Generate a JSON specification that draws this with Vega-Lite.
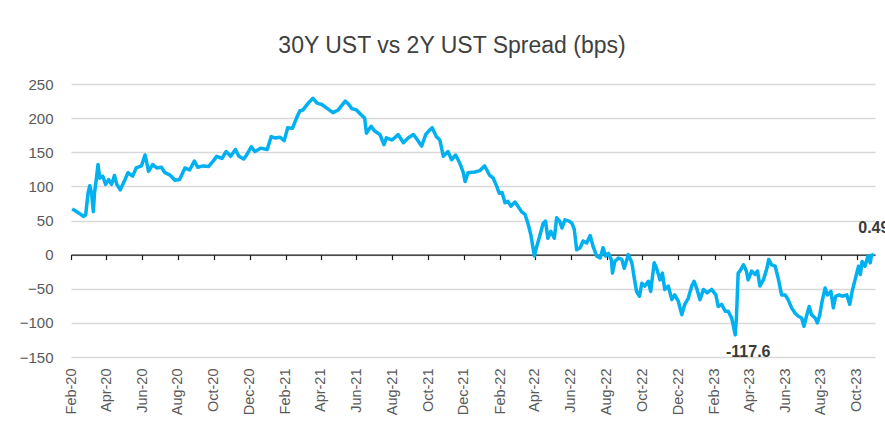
{
  "$schema": "https://vega.github.io/schema/vega-lite/v6.json",
  "width": 804,
  "height": 273,
  "autosize": {"type": "none"},
  "padding": {"left": 71, "top": 84, "right": 10, "bottom": 71},
  "background": "white",
  "config": {"view": {"stroke": null}, "font": "Liberation Sans"},
  "title": {"text": "30Y UST vs 2Y UST Spread (bps)", "fontSize": 23, "fontWeight": "normal", "color": "#404040", "font": "Liberation Sans", "anchor": "middle", "frame": "group", "dx": -21, "offset": 1, "baseline": "alphabetic"},
  "datasets": {
    "spread": [
      {"date":"2020-02-03","value":67},{"date":"2020-02-07","value":65},{"date":"2020-02-16","value":60},{"date":"2020-02-22","value":56},{"date":"2020-02-26","value":58},
      {"date":"2020-03-01","value":90},{"date":"2020-03-04","value":101},{"date":"2020-03-07","value":90},{"date":"2020-03-10","value":63},{"date":"2020-03-12","value":90},
      {"date":"2020-03-15","value":110},{"date":"2020-03-18","value":132},{"date":"2020-03-21","value":112},{"date":"2020-03-26","value":115},{"date":"2020-03-31","value":103},
      {"date":"2020-04-05","value":110},{"date":"2020-04-10","value":103},{"date":"2020-04-15","value":116},{"date":"2020-04-19","value":103},{"date":"2020-04-25","value":95},
      {"date":"2020-05-03","value":110},{"date":"2020-05-08","value":120},{"date":"2020-05-16","value":115},{"date":"2020-05-22","value":127},{"date":"2020-05-31","value":130},
      {"date":"2020-06-06","value":146},{"date":"2020-06-08","value":139},{"date":"2020-06-12","value":122},{"date":"2020-06-19","value":132},{"date":"2020-06-26","value":127},
      {"date":"2020-07-04","value":128},{"date":"2020-07-10","value":120},{"date":"2020-07-18","value":117},{"date":"2020-07-27","value":109},{"date":"2020-08-04","value":110},
      {"date":"2020-08-13","value":127},{"date":"2020-08-21","value":124},{"date":"2020-08-29","value":137},{"date":"2020-09-04","value":128},{"date":"2020-09-13","value":130},
      {"date":"2020-09-22","value":129},{"date":"2020-09-30","value":137},{"date":"2020-10-06","value":144},{"date":"2020-10-15","value":141},{"date":"2020-10-22","value":151},
      {"date":"2020-10-30","value":144},{"date":"2020-11-07","value":154},{"date":"2020-11-13","value":144},{"date":"2020-11-21","value":140},{"date":"2020-11-26","value":146},
      {"date":"2020-12-04","value":158},{"date":"2020-12-10","value":151},{"date":"2020-12-20","value":156},{"date":"2020-12-31","value":154},{"date":"2021-01-07","value":173},
      {"date":"2021-01-13","value":171},{"date":"2021-01-22","value":172},{"date":"2021-01-29","value":167},{"date":"2021-02-04","value":186},{"date":"2021-02-12","value":185},
      {"date":"2021-02-20","value":202},{"date":"2021-02-25","value":211},{"date":"2021-03-02","value":212},{"date":"2021-03-11","value":222},{"date":"2021-03-19","value":229},
      {"date":"2021-03-26","value":222},{"date":"2021-04-03","value":220},{"date":"2021-04-11","value":215},{"date":"2021-04-22","value":208},{"date":"2021-05-01","value":212},
      {"date":"2021-05-13","value":225},{"date":"2021-05-18","value":221},{"date":"2021-05-24","value":214},{"date":"2021-06-01","value":212},{"date":"2021-06-09","value":205},
      {"date":"2021-06-15","value":200},{"date":"2021-06-18","value":178},{"date":"2021-06-26","value":188},{"date":"2021-07-02","value":181},{"date":"2021-07-11","value":176},
      {"date":"2021-07-18","value":161},{"date":"2021-07-22","value":171},{"date":"2021-07-31","value":168},{"date":"2021-08-05","value":171},{"date":"2021-08-11","value":176},
      {"date":"2021-08-20","value":164},{"date":"2021-08-28","value":171},{"date":"2021-09-06","value":176},{"date":"2021-09-13","value":168},{"date":"2021-09-20","value":159},
      {"date":"2021-09-27","value":176},{"date":"2021-10-02","value":181},{"date":"2021-10-08","value":186},{"date":"2021-10-15","value":173},{"date":"2021-10-21","value":168},
      {"date":"2021-10-27","value":144},{"date":"2021-11-04","value":151},{"date":"2021-11-10","value":139},{"date":"2021-11-17","value":146},{"date":"2021-11-24","value":134},
      {"date":"2021-11-30","value":120},{"date":"2021-12-03","value":107},{"date":"2021-12-08","value":120},{"date":"2021-12-20","value":121},{"date":"2021-12-28","value":123},
      {"date":"2022-01-05","value":130},{"date":"2022-01-09","value":124},{"date":"2022-01-14","value":116},{"date":"2022-01-20","value":112},{"date":"2022-01-26","value":100},
      {"date":"2022-01-30","value":90},{"date":"2022-02-04","value":91},{"date":"2022-02-09","value":76},{"date":"2022-02-14","value":78},{"date":"2022-02-19","value":71},
      {"date":"2022-02-26","value":77},{"date":"2022-03-03","value":71},{"date":"2022-03-09","value":63},{"date":"2022-03-15","value":59},{"date":"2022-03-20","value":46},
      {"date":"2022-03-25","value":29},{"date":"2022-03-31","value":-2},{"date":"2022-04-04","value":12},{"date":"2022-04-09","value":27},{"date":"2022-04-15","value":46},
      {"date":"2022-04-19","value":49},{"date":"2022-04-23","value":24},{"date":"2022-04-28","value":34},{"date":"2022-05-04","value":24},{"date":"2022-05-08","value":54},
      {"date":"2022-05-13","value":49},{"date":"2022-05-17","value":39},{"date":"2022-05-22","value":51},{"date":"2022-05-29","value":49},{"date":"2022-06-03","value":46},
      {"date":"2022-06-07","value":37},{"date":"2022-06-11","value":7},{"date":"2022-06-17","value":10},{"date":"2022-06-22","value":20},{"date":"2022-06-28","value":17},
      {"date":"2022-07-04","value":28},{"date":"2022-07-09","value":12},{"date":"2022-07-15","value":-2},{"date":"2022-07-21","value":-5},{"date":"2022-07-26","value":10},
      {"date":"2022-07-30","value":-2},{"date":"2022-08-04","value":2},{"date":"2022-08-09","value":-7},{"date":"2022-08-11","value":-27},{"date":"2022-08-15","value":-10},
      {"date":"2022-08-21","value":-5},{"date":"2022-08-27","value":-7},{"date":"2022-08-31","value":-20},{"date":"2022-09-07","value":0},{"date":"2022-09-13","value":-12},
      {"date":"2022-09-17","value":-34},{"date":"2022-09-21","value":-54},{"date":"2022-09-26","value":-61},{"date":"2022-09-30","value":-42},{"date":"2022-10-05","value":-46},
      {"date":"2022-10-11","value":-39},{"date":"2022-10-15","value":-54},{"date":"2022-10-21","value":-12},{"date":"2022-10-25","value":-20},{"date":"2022-10-31","value":-37},
      {"date":"2022-11-04","value":-27},{"date":"2022-11-08","value":-51},{"date":"2022-11-14","value":-46},{"date":"2022-11-20","value":-66},{"date":"2022-11-25","value":-59},
      {"date":"2022-12-01","value":-68},{"date":"2022-12-07","value":-88},{"date":"2022-12-12","value":-73},{"date":"2022-12-18","value":-64},{"date":"2022-12-24","value":-46},
      {"date":"2022-12-28","value":-39},{"date":"2023-01-02","value":-51},{"date":"2023-01-07","value":-66},{"date":"2023-01-13","value":-51},{"date":"2023-01-19","value":-56},
      {"date":"2023-01-27","value":-51},{"date":"2023-02-03","value":-59},{"date":"2023-02-07","value":-76},{"date":"2023-02-13","value":-73},{"date":"2023-02-19","value":-83},
      {"date":"2023-02-24","value":-83},{"date":"2023-03-02","value":-93},{"date":"2023-03-08","value":-117.6},{"date":"2023-03-10","value":-93},{"date":"2023-03-13","value":-27},
      {"date":"2023-03-16","value":-24},{"date":"2023-03-22","value":-15},{"date":"2023-03-27","value":-24},{"date":"2023-03-30","value":-37},{"date":"2023-04-05","value":-24},
      {"date":"2023-04-11","value":-29},{"date":"2023-04-15","value":-24},{"date":"2023-04-19","value":-46},{"date":"2023-04-25","value":-37},{"date":"2023-05-01","value":-20},
      {"date":"2023-05-04","value":-7},{"date":"2023-05-09","value":-15},{"date":"2023-05-15","value":-17},{"date":"2023-05-20","value":-34},{"date":"2023-05-26","value":-59},
      {"date":"2023-06-01","value":-59},{"date":"2023-06-06","value":-66},{"date":"2023-06-12","value":-78},{"date":"2023-06-18","value":-86},{"date":"2023-06-23","value":-90},
      {"date":"2023-06-29","value":-93},{"date":"2023-07-03","value":-105},{"date":"2023-07-08","value":-88},{"date":"2023-07-12","value":-76},{"date":"2023-07-16","value":-88},
      {"date":"2023-07-22","value":-93},{"date":"2023-07-26","value":-100},{"date":"2023-07-30","value":-88},{"date":"2023-08-03","value":-68},{"date":"2023-08-08","value":-49},
      {"date":"2023-08-12","value":-59},{"date":"2023-08-18","value":-54},{"date":"2023-08-22","value":-78},{"date":"2023-08-26","value":-61},{"date":"2023-09-01","value":-59},
      {"date":"2023-09-06","value":-61},{"date":"2023-09-14","value":-59},{"date":"2023-09-19","value":-73},{"date":"2023-09-23","value":-54},{"date":"2023-09-28","value":-37},
      {"date":"2023-10-04","value":-17},{"date":"2023-10-07","value":-29},{"date":"2023-10-10","value":-10},{"date":"2023-10-15","value":-17},{"date":"2023-10-20","value":-2},
      {"date":"2023-10-24","value":-12},{"date":"2023-10-26","value":-1},{"date":"2023-10-30","value":0.49}
    ],
    "labels": [
      {"date":"2023-03-08","value":-117.6,"label":"-117.6"},
      {"date":"2023-10-30","value":0.49,"label":"0.49"}
    ]
  },
  "layer": [
    {
      "data": {"name": "spread"},
      "mark": {"type": "line", "color": "#00b0f0", "strokeWidth": 3.5, "strokeJoin": "round"},
      "encoding": {
        "x": {
          "field": "date", "type": "temporal",
          "scale": {"type": "utc", "domain": [{"year":2020,"month":2,"date":1,"utc":true},{"year":2023,"month":11,"date":1,"utc":true}]},
          "axis": {
            "orient": "bottom",
            "values": [
              {"year":2020,"month":2,"date":1,"utc":true},{"year":2020,"month":4,"date":1,"utc":true},{"year":2020,"month":6,"date":1,"utc":true},{"year":2020,"month":8,"date":1,"utc":true},{"year":2020,"month":10,"date":1,"utc":true},{"year":2020,"month":12,"date":1,"utc":true},
              {"year":2021,"month":2,"date":1,"utc":true},{"year":2021,"month":4,"date":1,"utc":true},{"year":2021,"month":6,"date":1,"utc":true},{"year":2021,"month":8,"date":1,"utc":true},{"year":2021,"month":10,"date":1,"utc":true},{"year":2021,"month":12,"date":1,"utc":true},
              {"year":2022,"month":2,"date":1,"utc":true},{"year":2022,"month":4,"date":1,"utc":true},{"year":2022,"month":6,"date":1,"utc":true},{"year":2022,"month":8,"date":1,"utc":true},{"year":2022,"month":10,"date":1,"utc":true},{"year":2022,"month":12,"date":1,"utc":true},
              {"year":2023,"month":2,"date":1,"utc":true},{"year":2023,"month":4,"date":1,"utc":true},{"year":2023,"month":6,"date":1,"utc":true},{"year":2023,"month":8,"date":1,"utc":true},{"year":2023,"month":10,"date":1,"utc":true}
            ],
            "tickCount": 60,
            "labelExpr": "utcFormat(datum.value, '%b-%y')",
            "labelAngle": -90, "labelFontSize": 14.5, "labelColor": "#595959", "labelFont": "Liberation Sans",
            "ticks": false, "domain": false, "grid": false, "labelPadding": 11,
            "title": null, "labelOverlap": false, "labelBound": false, "labelFlush": false
          }
        },
        "y": {
          "field": "value", "type": "quantitative",
          "scale": {"domain": [-150, 250], "nice": false, "zero": false},
          "axis": {
            "values": [-150, -100, -50, 0, 50, 100, 150, 200, 250],
            "tickCount": 30,
            "grid": true, "gridColor": "#d9d9d9", "gridWidth": 1.3,
            "domain": false, "ticks": false,
            "labelFontSize": 15, "labelColor": "#595959", "labelFont": "Liberation Sans", "labelPadding": 18,
            "labelOverlap": false,
            "title": null
          }
        }
      }
    },
    {
      "data": {"name": "labels"},
      "transform": [{"filter": "datum.label == '-117.6'"}],
      "mark": {"type": "text", "dx": 13, "dy": 17, "fontWeight": "bold", "fontSize": 16, "color": "#3a3a3a", "font": "Liberation Sans"},
      "encoding": {
        "x": {
          "field": "date", "type": "temporal",
          "axis": {
            "orient": "bottom",
            "values": [
              {"year":2020,"month":2,"date":1,"utc":true},{"year":2020,"month":4,"date":1,"utc":true},{"year":2020,"month":6,"date":1,"utc":true},{"year":2020,"month":8,"date":1,"utc":true},{"year":2020,"month":10,"date":1,"utc":true},{"year":2020,"month":12,"date":1,"utc":true},
              {"year":2021,"month":2,"date":1,"utc":true},{"year":2021,"month":4,"date":1,"utc":true},{"year":2021,"month":6,"date":1,"utc":true},{"year":2021,"month":8,"date":1,"utc":true},{"year":2021,"month":10,"date":1,"utc":true},{"year":2021,"month":12,"date":1,"utc":true},
              {"year":2022,"month":2,"date":1,"utc":true},{"year":2022,"month":4,"date":1,"utc":true},{"year":2022,"month":6,"date":1,"utc":true},{"year":2022,"month":8,"date":1,"utc":true},{"year":2022,"month":10,"date":1,"utc":true},{"year":2022,"month":12,"date":1,"utc":true},
              {"year":2023,"month":2,"date":1,"utc":true},{"year":2023,"month":4,"date":1,"utc":true},{"year":2023,"month":6,"date":1,"utc":true},{"year":2023,"month":8,"date":1,"utc":true},{"year":2023,"month":10,"date":1,"utc":true}
            ],
            "tickCount": 60,
            "labels": false, "ticks": true, "tickSize": 5, "tickColor": "#1a1a1a", "tickWidth": 1.2,
            "domain": true, "domainColor": "#1a1a1a", "domainWidth": 1.3,
            "grid": false, "offset": -102.4, "title": null
          }
        },
        "y": {"field": "value", "type": "quantitative"},
        "text": {"field": "label"}
      }
    },
    {
      "data": {"name": "labels"},
      "transform": [{"filter": "datum.label == '0.49'"}],
      "mark": {"type": "text", "dx": 0, "dy": -26, "fontWeight": "bold", "fontSize": 16, "color": "#3a3a3a", "font": "Liberation Sans"},
      "encoding": {
        "x": {"field": "date", "type": "temporal", "axis": null},
        "y": {"field": "value", "type": "quantitative"},
        "text": {"field": "label"}
      }
    }
  ],
  "resolve": {"axis": {"x": "independent"}}
}
